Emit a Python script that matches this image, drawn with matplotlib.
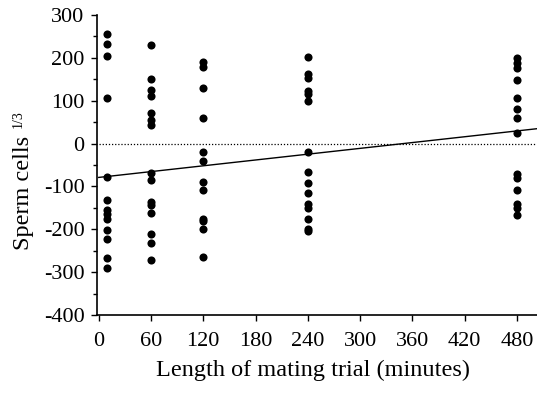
import numpy as np
import matplotlib
matplotlib.use('Agg')
import matplotlib.pyplot as plt
from matplotlib.ticker import MultipleLocator

# trial length (minutes) and cube-root sperm counts
t10 = [255, 232, 205, 106, -77, -132, -155, -165, -175, -202, -222, -268, -290]
t60 = [229, 151, 124, 111, 72, 55, 43, -69, -85, -136, -143, -163, -212, -233, -272]
t120 = [191, 178, 129, 60, -19, -40, -90, -108, -176, -181, -199, -264]
t240 = [201, 162, 152, 123, 116, 99, -19, -67, -91, -115, -142, -151, -176, -199, -205]
t480 = [199, 189, 176, 148, 106, 81, 60, 24, -71, -80, -109, -141, -150, -167]
groups = {10: t10, 60: t60, 120: t120, 240: t240, 480: t480}

fit_intercept = -79
fit_slope = 0.226

xticks = [0, 60, 120, 180, 240, 300, 360, 420, 480]
yticks = [-400, -300, -200, -100, 0, 100, 200, 300]

plt.rcParams['font.family'] = 'Liberation Serif'
plt.rcParams['font.size'] = 16
plt.rcParams['axes.unicode_minus'] = False

fig = plt.figure(figsize=(5.37, 4.04), dpi=100)
ax = fig.add_axes([0.1806, 0.2203, 0.8194, 0.7426])

for t, vals in groups.items():
  ax.scatter([t] * len(vals), vals, s=34, color='black', zorder=3, linewidths=0)

xx = np.array([0, 503])
ax.plot(xx, fit_intercept + fit_slope * xx, color='black', lw=1)
ax.plot(xx, [0, 0], color='black', lw=0.9, ls=(0, (1, 1.5)))

ax.set_xlim(-2, 503)
ax.set_ylim(-400, 300)
ax.set_xticks(xticks)
ax.set_yticks(yticks)
ax.yaxis.set_minor_locator(MultipleLocator(50))
ax.tick_params(which='both', direction='out', width=1)
ax.tick_params(which='major', length=4)
ax.tick_params(which='minor', length=3)
ax.tick_params(axis='x', pad=8.5)
ax.tick_params(axis='y', pad=5)
for s in ['top', 'right']:
  ax.spines[s].set_visible(False)
for s in ['left', 'bottom']:
  ax.spines[s].set_linewidth(1.2)

fig.text(313 / 537, 1 - 370 / 404, 'Length of mating trial (minutes)', ha='center', va='center', fontsize=17.5)
fig.text(23 / 537, 1 - 193 / 404, 'Sperm cells', rotation=90, ha='center', va='center', fontsize=17.5)
fig.text(18 / 537, 1 - 119 / 404, '1/3', rotation=90, ha='center', va='center', fontsize=10)

fig.savefig('out.png', dpi=100)
